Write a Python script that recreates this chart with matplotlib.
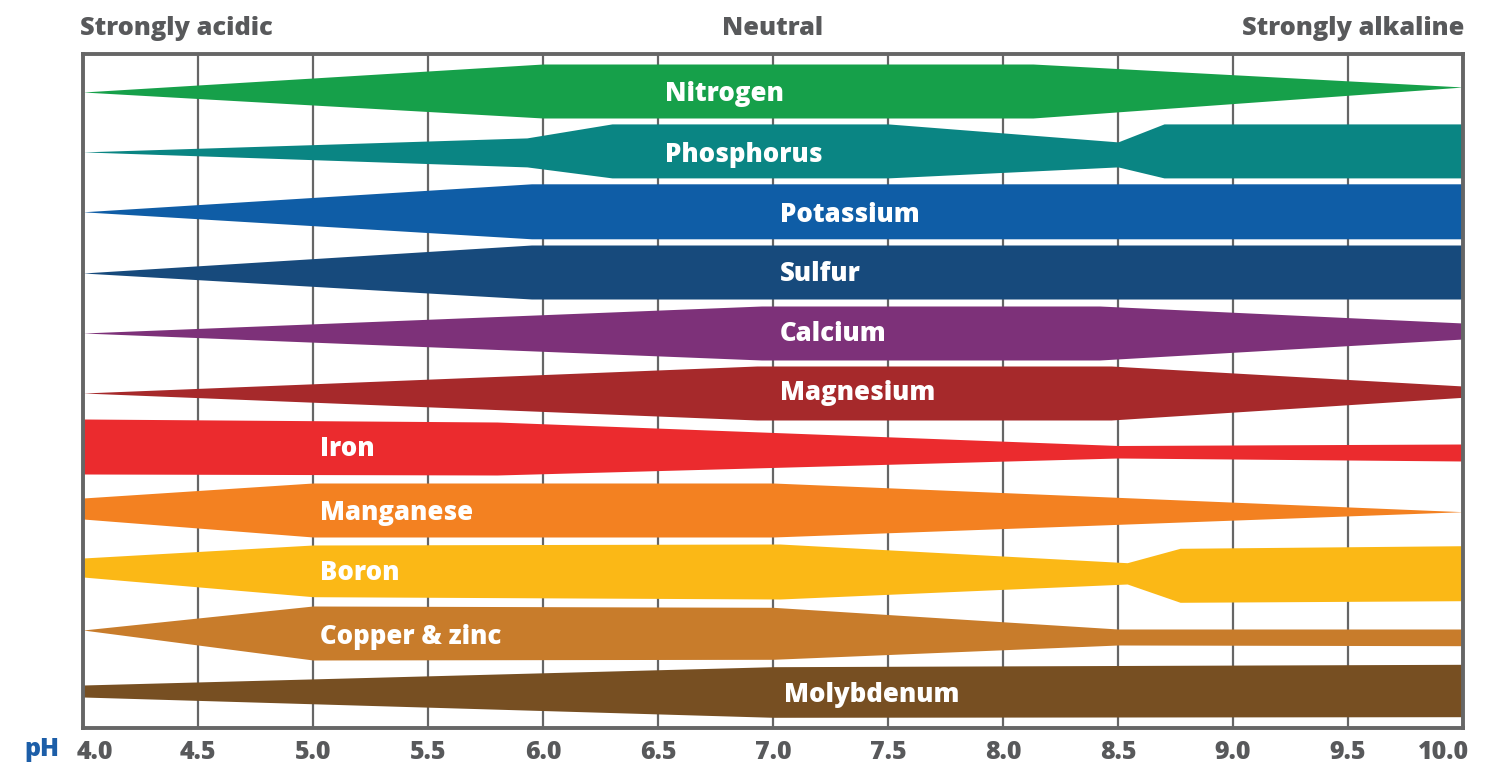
import matplotlib
matplotlib.use("Agg")
import matplotlib.pyplot as plt
from matplotlib.transforms import blended_transform_factory, ScaledTranslation

plt.rcParams['font.family'] = ['Open Sans', 'DejaVu Sans']

# ---------------- data ----------------
nutrients = ["Nitrogen", "Phosphorus", "Potassium", "Sulfur", "Calcium", "Magnesium",
             "Iron", "Manganese", "Boron", "Copper & zinc", "Molybdenum"]
label_ph = [6.53, 6.53, 7.03, 7.03, 7.03, 7.03, 5.03, 5.03, 5.03, 5.03, 7.05]
label_dy = [0, 1, 1, 0, 0, -1, -5, 0, 0, 4, 2]
colors = ["#16A04A", "#0A8583", "#0F5DA6", "#174A7C", "#7D3179", "#A6292B",
          "#EB2B2E", "#F38121", "#FBB816", "#C87C2B", "#774F22"]

# availability band: pH breakpoints, extent above centre, extent below centre
nitrogen_ph = [4.0, 6.0, 8.13, 10.0]
nitrogen_up = [0, 28, 28, 5]
nitrogen_dn = [0, 26, 26, -5]

phosphorus_ph = [4.0, 5.93, 6.3, 7.5, 8.5, 8.7, 10.0]
phosphorus_up = [0, 14, 28, 28, 10, 28, 28]
phosphorus_dn = [0, 15, 26, 26, 15, 26, 26]

potassium_ph = [4.0, 5.95, 10.0]
potassium_up = [0, 28, 28]
potassium_dn = [0, 27, 27]

sulfur_ph = [4.0, 5.95, 10.0]
sulfur_up = [-1.3, 26.7, 26.7]
sulfur_dn = [1.3, 27.3, 27.3]

calcium_ph = [4.0, 6.95, 8.42, 10.0]
calcium_up = [-1.4, 25.6, 25.6, 8.6]
calcium_dn = [1.4, 28.4, 28.4, 7.4]

magnesium_ph = [4.0, 6.93, 8.47, 10.0]
magnesium_up = [-1.5, 25.5, 25.5, 5.5]
magnesium_dn = [1.5, 28.5, 28.5, 5.8]

iron_ph = [4.0, 5.8, 8.5, 10.0]
iron_up = [32.4, 29.4, 5.9, 7.4]
iron_dn = [22.6, 23.6, 6.6, 9.6]

manganese_ph = [4.0, 5.0, 7.0, 10.0]
manganese_up = [13.3, 28.3, 28.3, -0.4]
manganese_dn = [7.7, 25.7, 25.7, 0.4]

boron_ph = [4.0, 5.0, 7.03, 8.54, 8.77, 10.0]
boron_up = [13.2, 26.2, 27.2, 8.5, 22.9, 25.5]
boron_dn = [5.8, 25.5, 27.8, 12.8, 31.1, 29.5]

copper_zinc_ph = [4.0, 5.0, 7.0, 8.5, 10.0]
copper_zinc_up = [1.1, 25.1, 23.8, 2.1, 2.1]
copper_zinc_dn = [-1.1, 28.9, 28.2, 13.9, 14.6]

molybdenum_ph = [4.0, 7.0, 10.0]
molybdenum_up = [6, 24.3, 26.7]
molybdenum_dn = [6, 26.3, 25.7]

bands = [
    (nitrogen_ph, nitrogen_up, nitrogen_dn),
    (phosphorus_ph, phosphorus_up, phosphorus_dn),
    (potassium_ph, potassium_up, potassium_dn),
    (sulfur_ph, sulfur_up, sulfur_dn),
    (calcium_ph, calcium_up, calcium_dn),
    (magnesium_ph, magnesium_up, magnesium_dn),
    (iron_ph, iron_up, iron_dn),
    (manganese_ph, manganese_up, manganese_dn),
    (boron_ph, boron_up, boron_dn),
    (copper_zinc_ph, copper_zinc_up, copper_zinc_dn),
    (molybdenum_ph, molybdenum_up, molybdenum_dn),
]

ph_ticks = [4.0, 4.5, 5.0, 5.5, 6.0, 6.5, 7.0, 7.5, 8.0, 8.5, 9.0, 9.5, 10.0]
ph_tick_labels = ["4.0", "4.5", "5.0", "5.5", "6.0", "6.5", "7.0", "7.5",
                  "8.0", "8.5", "9.0", "9.5", "10.0"]
headers = ["Strongly acidic", "Neutral", "Strongly alkaline"]

# ---------------- figure ----------------
W, H = 1501, 764
DPI = 100
fig = plt.figure(figsize=(W / DPI, H / DPI), dpi=DPI)
ax = fig.add_axes([83 / W, 1 - 728 / H, (1463 - 83) / W, (728 - 54) / H])

ROW = 59.9
ax.set_xlim(4.0, 10.0)
ax.set_ylim(728 - 92, 54 - 92)

grey = "#58595B"
frame = "#666666"
WEIGHT = 800

for i, ((xs, up, dn), col) in enumerate(zip(bands, colors)):
    c = i * ROW
    top = [c - u for u in up]
    bot = [c + d for d in dn]
    ax.fill_between(xs, top, bot, color=col, lw=0, zorder=2)

TICK_FS = 18
ax.set_xticks(ph_ticks)
ax.set_xticklabels(ph_tick_labels)
ax.set_yticks([])
ax.tick_params(axis='x', length=0, pad=8.5, labelsize=TICK_FS, labelcolor=grey)
labs = ax.get_xticklabels()
for lab in labs:
    lab.set_fontweight(WEIGHT)
px = 1.0 / DPI
labs[0].set_transform(labs[0].get_transform() + ScaledTranslation(12 * px, 0, fig.dpi_scale_trans))
labs[-1].set_transform(labs[-1].get_transform() + ScaledTranslation(-19 * px, 0, fig.dpi_scale_trans))

ax.grid(axis='x', color=frame, lw=1.6, zorder=1)
ax.set_axisbelow(True)
for sp in ax.spines.values():
    sp.set_color(frame)
    sp.set_linewidth(2.8)
    sp.set_zorder(5)

LABEL_FS = 18.5
for i, (name, x, dy) in enumerate(zip(nutrients, label_ph, label_dy)):
    shift = ScaledTranslation(0, -(0.357 * LABEL_FS / 72) - dy * px, fig.dpi_scale_trans)
    ax.text(x, i * ROW, name, color="white", fontsize=LABEL_FS, fontweight=WEIGHT,
            ha='left', va='baseline', zorder=4, transform=ax.transData + shift)

HEAD_FS = 18.3
hy = 1 - 26 / H
btr = blended_transform_factory(ax.transData, fig.transFigure)
hshift = ScaledTranslation(0, -0.357 * HEAD_FS / 72, fig.dpi_scale_trans)
ax.text(4.0, hy, headers[0], transform=btr + hshift + ScaledTranslation(-3 * px, 0, fig.dpi_scale_trans),
        ha='left', va='baseline', fontsize=HEAD_FS, fontweight=WEIGHT, color=grey)
ax.text(7.0, hy, headers[1], transform=btr + hshift, ha='center', va='baseline',
        fontsize=HEAD_FS, fontweight=WEIGHT, color=grey)
ax.text(10.0, hy, headers[2], transform=btr + hshift + ScaledTranslation(1 * px, 0, fig.dpi_scale_trans),
        ha='right', va='baseline', fontsize=HEAD_FS, fontweight=WEIGHT, color=grey)

fig.text(42 / W, 1 - 749 / H, "pH", ha='center', va='center', fontsize=TICK_FS,
         fontweight=WEIGHT, color="#1C5EA8")

fig.savefig("out.png", dpi=DPI)
